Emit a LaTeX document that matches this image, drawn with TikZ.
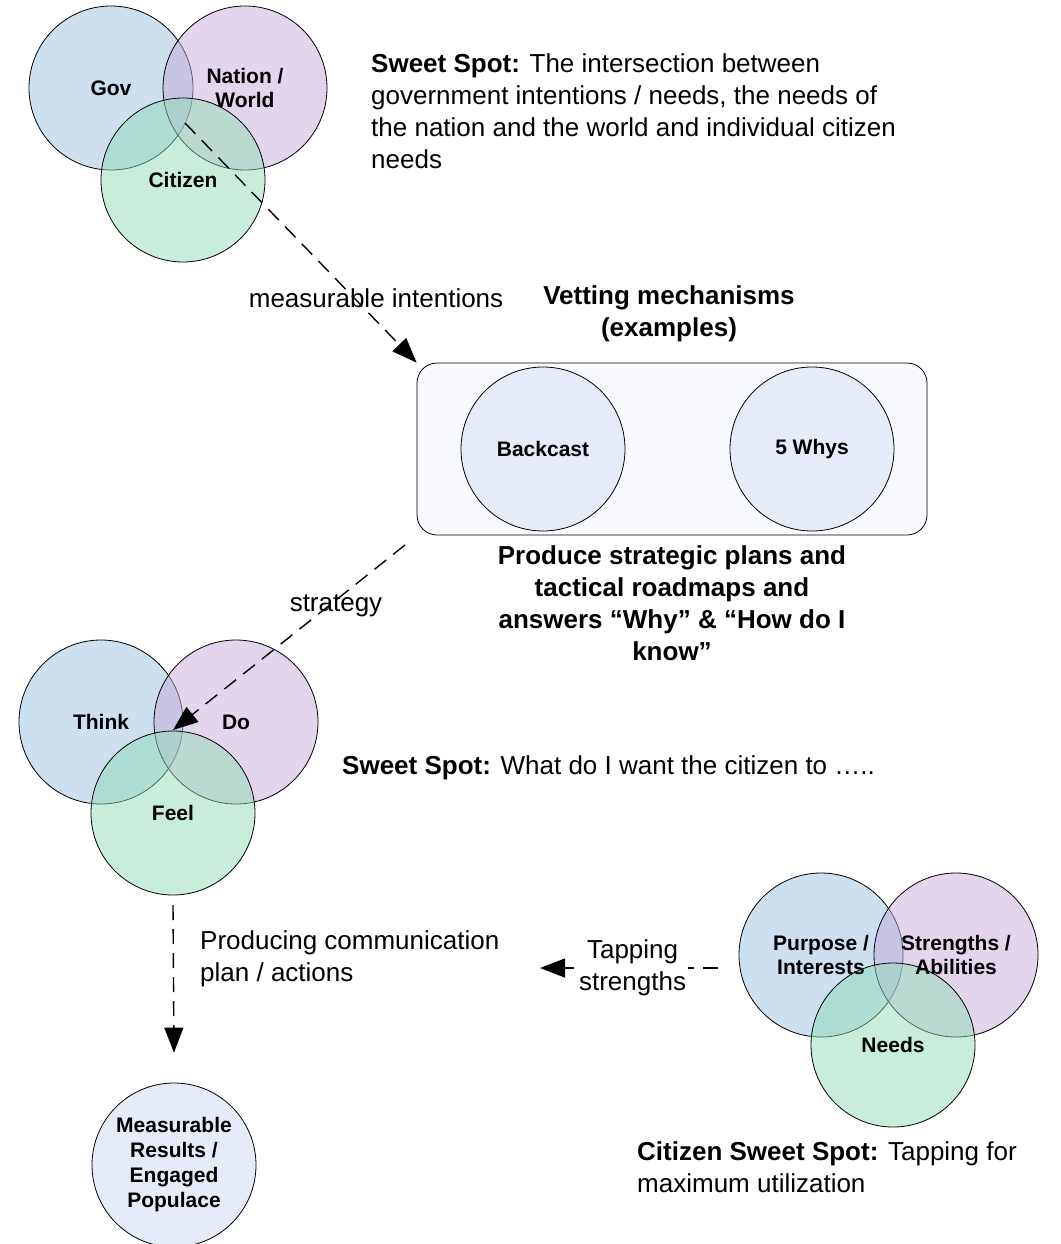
\documentclass[tikz,border=0pt]{standalone}
\usepackage{fontspec}
\setmainfont{Liberation Sans}
\usetikzlibrary{arrows.meta,positioning}
\definecolor{govblue}{RGB}{153,193,225}
\definecolor{natpurple}{RGB}{197,171,217}
\definecolor{citgreen}{RGB}{145,221,183}
\definecolor{vetfill}{RGB}{248,250,253}
\definecolor{toolfill}{RGB}{229,236,247}

\begin{document}
\begin{tikzpicture}[x=1pt,y=-1pt,
		venn/.style={circle, draw=black, line width=0.8pt, minimum size=164pt,
			inner sep=0pt, fill opacity=0.5},
		vlabel/.style={font=\fontsize{21}{24.5}\selectfont\bfseries, align=center},
		tool/.style={circle, draw=black, line width=0.8pt, fill=toolfill,
			minimum size=164pt, inner sep=0pt, align=center,
			font=\fontsize{21}{25}\selectfont\bfseries},
		note/.style={font=\fontsize{26}{32}\selectfont, align=left, inner sep=0pt},
		headline/.style={font=\fontsize{26}{32}\selectfont\bfseries, align=center, inner sep=0pt},
		flow/.style={-{Triangle[length=25pt,width=19pt]}, line width=1.4pt,
			dash pattern=on 15pt off 9pt}
	]
		\useasboundingbox (0,0) rectangle (1060,1244);

		% government / nation / citizen
		\node[venn, fill=govblue] (gov) at (111,88) {};
		\node[venn, fill=natpurple] (nation) at (245,88) {};
		\node[venn, fill=citgreen] (citizen) at (183,180) {};
		\node[vlabel] (govtxt) at (gov) {Gov};
		\node[vlabel] (nationtxt) at (nation) {Nation /\\World};
		\node[vlabel] (citizentxt) at (citizen) {Citizen};
		\node[note, anchor=west] (topnote) at (371,111)
			{\textbf{Sweet Spot:} The intersection between\\government intentions / needs, the needs of\\the nation and the world and individual citizen\\needs};

		% vetting
		\node[headline] (vettitle) at (669,314) {Vetting mechanisms\\(examples)};
		\node[draw, line width=0.8pt, rounded corners=20pt, fill=vetfill,
			minimum width=510pt, minimum height=172pt] (vet) at (672,449) {};
		\node[tool] (backcast) at (543,449) {Backcast};
		\node[tool] (whys) at (812,449) {5 Whys};
		\node[headline] (produce) at (672,603)
			{Produce strategic plans and\\tactical roadmaps and\\answers “Why” \& “How do I\\know”};

		% think / do / feel
		\node[venn, fill=govblue] (think) at (101,722) {};
		\node[venn, fill=natpurple] (do) at (236,722) {};
		\node[venn, fill=citgreen] (feel) at (173,813) {};
		\node[vlabel] (thinktxt) at (think) {Think};
		\node[vlabel] (dotxt) at (do) {Do};
		\node[vlabel] (feeltxt) at (feel) {Feel};
		\node[note, anchor=west] (midnote) at (342,768)
			{\textbf{Sweet Spot:} What do I want the citizen to …..};

		% citizen sweet spot
		\node[venn, fill=govblue] (purpose) at (821,955) {};
		\node[venn, fill=natpurple] (strengths) at (956,955) {};
		\node[venn, fill=citgreen] (needs) at (893,1045) {};
		\node[vlabel] (purposetxt) at (purpose) {Purpose /\\Interests};
		\node[vlabel] (strengthstxt) at (strengths) {Strengths /\\Abilities};
		\node[vlabel] (needstxt) at (needs) {Needs};
		\node[note, anchor=west] (citnote) at (637,1167)
			{\textbf{Citizen Sweet Spot:} Tapping for\\maximum utilization};

		% results
		\node[tool] (results) at (174,1165) {Measurable\\Results /\\Engaged\\Populace};

		% connectors
		\coordinate (govspot) at (185,123);
		\coordinate (stratstart) at (405,545);
		\coordinate (feelspot) at (173,730);
		\coordinate (commstart) at (173,905);
		\coordinate (tapstart) at (718,968);
		\coordinate (tapend) at (540,968);

		\draw[flow] (govspot) -- (vet.north west)
			node[note, pos=0.73, xshift=22pt] (measlabel) {measurable intentions};
		\draw[flow] (stratstart) -- (feelspot);
		\node[note] (stratlabel) at (336,606) {strategy};
		\draw[flow] (commstart) -- ([yshift=30pt]results.north);
		\node[note, anchor=west] (commnote) at (200,959) {Producing communication\\plan / actions};
		\draw[flow] (tapstart) -- (tapend)
			node[note, align=center, pos=0.48, fill=white, inner xsep=2pt] (taplabel) {Tapping\\strengths};
	\end{tikzpicture}
\end{document}
